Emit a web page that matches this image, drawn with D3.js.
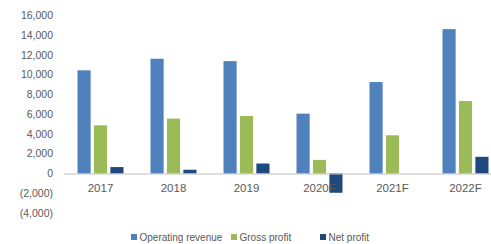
<!DOCTYPE html>
<html>
<head>
<meta charset="utf-8">
<script src="https://cdn.jsdelivr.net/npm/d3@7"></script>
<style>
  body { margin: 0; background: #fff; }
  text { font-family: "Liberation Sans", Arial, sans-serif; fill: #595959; }
</style>
</head>
<body>
<div id="chart"></div>
<script>
const years = ["2017", "2018", "2019", "2020F", "2021F", "2022F"];
const seriesNames = ["Operating revenue", "Gross profit", "Net profit"];
const operatingRevenue = [10450, 11620, 11380, 6060, 9260, 14620];
const grossProfit = [4880, 5560, 5830, 1380, 3870, 7340];
const netProfit = [650, 380, 1010, -1950, 0, 1690];
const yTicks = [-4000, -2000, 0, 2000, 4000, 6000, 8000, 10000, 12000, 14000, 16000];
const colors = ["#4f81bd", "#9bbb59", "#1f497d"];

const seriesValues = [operatingRevenue, grossProfit, netProfit];

const width = 491, height = 244;

const svg = d3.select("#chart").append("svg")
  .attr("width", width)
  .attr("height", height);

// scales
const y = d3.scaleLinear().domain([-4000, 16000]).range([213, 15.5]);

const x0 = d3.scaleBand().domain(years).range([64, 502]).padding(0);

const x1 = d3.scaleBand()
  .domain(seriesNames)
  .range([13.5, 59.5])
  .paddingInner(0.2);

// y tick labels
const fmt = d => d < 0 ? "(" + d3.format(",")(-d) + ")" : d3.format(",")(d);
svg.append("g")
  .selectAll("text")
  .data(yTicks)
  .join("text")
  .attr("x", 53)
  .attr("y", d => y(d))
  .attr("dy", "0.35em")
  .attr("text-anchor", "end")
  .style("font-size", "10.5px")
  .text(fmt);

// bars
const groups = svg.append("g")
  .selectAll("g")
  .data(years)
  .join("g")
  .attr("transform", d => "translate(" + x0(d) + ",0)");

groups.selectAll("rect")
  .data((yr, i) => seriesNames.map((s, j) => ({ s: s, v: seriesValues[j][i], c: colors[j] })))
  .join("rect")
  .attr("x", d => x1(d.s))
  .attr("width", x1.bandwidth())
  .attr("y", d => y(Math.max(0, d.v)))
  .attr("height", d => Math.abs(y(d.v) - y(0)))
  .attr("fill", d => d.c);

// zero axis line
svg.append("line")
  .attr("x1", 64).attr("x2", 502)
  .attr("y1", y(0) + 0.5).attr("y2", y(0) + 0.5)
  .attr("stroke", "#bfbfbf")
  .attr("stroke-width", 1);

// category labels
svg.append("g")
  .selectAll("text")
  .data(years)
  .join("text")
  .attr("x", d => x0(d) + x0.bandwidth() / 2)
  .attr("y", 188)
  .attr("dy", "0.35em")
  .attr("text-anchor", "middle")
  .style("font-size", "11.5px")
  .text(d => d);

// legend
const legendX = [131, 231, 320];
const legend = svg.append("g")
  .selectAll("g")
  .data(seriesNames)
  .join("g")
  .attr("transform", (d, i) => "translate(" + legendX[i] + ",237)");

legend.append("rect")
  .attr("x", 0).attr("y", -3)
  .attr("width", 6).attr("height", 6)
  .attr("fill", (d, i) => colors[i]);

legend.append("text")
  .attr("x", 8.5)
  .attr("dy", "0.35em")
  .style("font-size", "10px")
  .text(d => d);
</script>
</body>
</html>
